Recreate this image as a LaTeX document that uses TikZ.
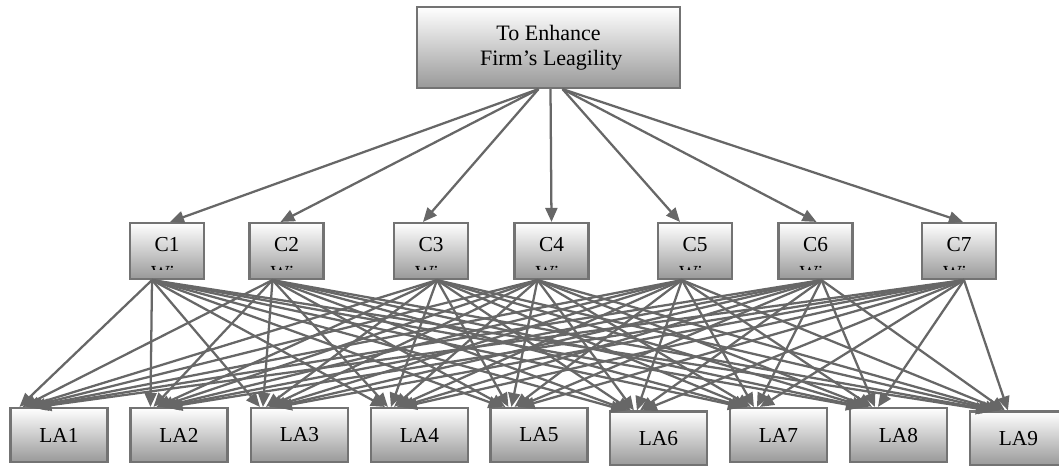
\documentclass[tikz,border=0pt]{standalone}
\usepackage{fontspec}
\setmainfont{Liberation Serif}
\usetikzlibrary{arrows.meta,calc}
\definecolor{edgec}{HTML}{676767}
\definecolor{boxline}{HTML}{737373}
\definecolor{boxbot}{HTML}{999999}
\tikzset{
  box/.style={draw=boxline, line width=1.6pt, top color=white, bottom color=boxbot, inner sep=0pt, font=\fontsize{16}{18}\selectfont},
  cbox/.style={box, minimum width=55.5pt, minimum height=42pt},
  labox/.style={box, minimum width=72.75pt, minimum height=40.5pt},
  link/.style={draw=edgec, line width=1.7pt, -{Triangle[length=10.5pt,width=9pt]}},
  cliptext/.style={inner sep=0pt, anchor=north, font=\fontsize{15}{18}\selectfont}
}
\begin{document}
\begin{tikzpicture}[x=0.75pt,y=-0.75pt]
\useasboundingbox (0,0) rectangle (1059,465);
% top node
\node[box, minimum width=197.25pt, minimum height=60.75pt, align=center, font=\fontsize{16.5}{19}\selectfont] (top) at (548.5,47.5) {To Enhance\\ \ Firm’s Leagility};
% criteria
\foreach \n/\x in {1/167,2/286.5,3/431,4/551.5,5/695,6/815.5,7/959}{
  \node[cbox] (C\n) at (\x,251) {};
  \node[inner sep=0pt, font=\fontsize{16}{18}\selectfont] (cl\n) at ($(C\n.center)+(0,-6)$) {C\n};
  \begin{scope}
    \clip ($(C\n.south west)+(2,-11)$) rectangle ($(C\n.north east)+(-2,2)$);
    \node[cliptext] (w\n) at ($(C\n.south)+(-4,-14)$) {Wi};
  \end{scope}
}
% alternatives
\foreach \n/\x/\y in {1/59/435,2/179/435,3/299.5/435,4/419.5/435,5/539/435,6/658.5/438.5,7/778.5/435,8/898.5/435,9/1018.5/438.5}{
  \node[labox] (LA\n) at (\x,\y) {LA\n};
}
% top arrows
\foreach \n/\s/\e in {1/-10/3,2/-10/-6,3/-10/-8,4/2/0,5/14/-15,6/14/1,7/14/4}{
  \draw[link] ($(top.south)+(\s,0)$) -- ($(C\n.north)+(\e,0)$);
}
% criteria to alternatives
\foreach \i/\sx in {1/-15,2/-14,3/6,4/-14,5/-13,6/6,7/5}{
  \foreach \j/\b in {1/19,2/30,3/19,4/24,5/22,6/25,7/22,8/20,9/30}{
    \draw[link] ($(C\i.south)+(\sx,0)$) -- ($(LA\j.north west)+({\b+(\i-4)*3},0)$);
  }
}
\end{tikzpicture}
\end{document}
